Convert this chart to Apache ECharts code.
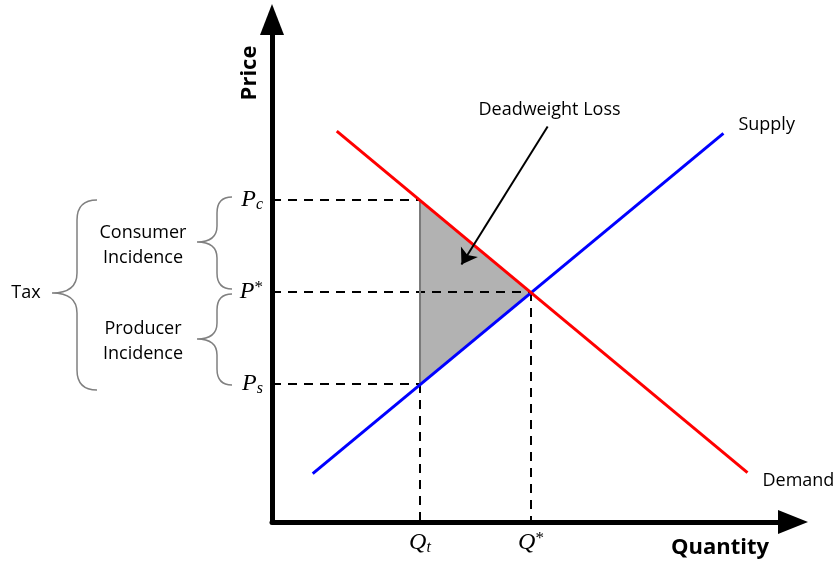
<!DOCTYPE html>
<html>
<head>
<meta charset="utf-8">
<script src="https://cdn.jsdelivr.net/npm/echarts@6/dist/echarts.min.js"></script>
<style>
  html, body { margin: 0; padding: 0; background: #fff; }
  #main { width: 840px; height: 566px; }
</style>
</head>
<body>
<div id="main"></div>
<script>
// key prices and quantities
var priceTicks = [6, 10, 14];           // Ps, P*, Pc
var priceLabels = ['{p|P}{sub|s}', '{p|P}{sup|*}', '{p|P}{sub|c}'];
var qtyTicks = [4, 7];                  // Qt, Q*
var qtyLabels = ['{p|Q}{sub|t}', '{p|Q}{sup|*}'];

// curves (endpoints)
var supplyPts = [[1.1, 2.1], [12.2, 16.9]];
var demandPts = [[1.75, 17.0], [12.85, 2.15]];

// deadweight loss triangle
var dwlPts = [[4, 14], [7, 10], [4, 6]];
var dwlEdge = [[4, 6], [4, 14]];

// dashed guide lines
var guides = [
    [[0, 14], [4, 14]],
    [[0, 10], [7, 10]],
    [[0, 6], [4, 6]],
    [[4, 6], [4, 0]],
    [[7, 10], [7, 0]]
];

// annotation arrow
var dwlArrow = [[7.45, 17.2], [5.12, 11.2]];
var dwlText = [7.5, 17.9];

var myChart = echarts.init(document.getElementById('main'));

var txtFont = '"Open Sans", sans-serif';
var mathRich = {
    p: { fontFamily: '"Liberation Serif", serif', fontStyle: 'italic', fontSize: 24, lineHeight: 26, color: '#000' },
    sub: { fontFamily: '"Liberation Serif", serif', fontStyle: 'italic', fontSize: 16, lineHeight: 15, verticalAlign: 'bottom', color: '#000' },
    sup: { fontFamily: '"Liberation Serif", serif', fontSize: 17, lineHeight: 14, verticalAlign: 'top', color: '#000' }
};

function brace(xa, xs, xt, yt, ym, yb, r) {
    return 'M' + xa + ',' + yt + ' Q' + xs + ',' + yt + ' ' + xs + ',' + (yt + r) +
        ' L' + xs + ',' + (ym - r) + ' Q' + xs + ',' + ym + ' ' + xt + ',' + ym +
        ' Q' + xs + ',' + ym + ' ' + xs + ',' + (ym + r) +
        ' L' + xs + ',' + (yb - r) + ' Q' + xs + ',' + yb + ' ' + xa + ',' + yb;
}

var series = [];

// triangle fill
series.push({
    type: 'custom',
    renderItem: function (params, api) {
        var pts = dwlPts.map(function (d) { return api.coord(d); });
        return { type: 'polygon', shape: { points: pts }, style: { fill: '#b2b2b2' } };
    },
    data: [0],
    z: 1,
    silent: true
});

guides.forEach(function (g) {
    series.push({
        type: 'line', data: g, symbol: 'none', silent: true, z: 2,
        lineStyle: { color: '#000', width: 2, type: [9, 7] }
    });
});

series.push({
    type: 'line', data: dwlEdge, symbol: 'none', silent: true, z: 2,
    lineStyle: { color: '#7a7a7a', width: 2 }
});

series.push({
    name: 'Supply', type: 'line', data: supplyPts, symbol: 'none', silent: true, z: 3,
    lineStyle: { color: '#0000ff', width: 3 },
    endLabel: { show: true, formatter: 'Supply', distance: 15, offset: [0, -8],
        fontFamily: txtFont, fontSize: 18, color: '#000' }
});

series.push({
    name: 'Demand', type: 'line', data: demandPts, symbol: 'none', silent: true, z: 4,
    lineStyle: { color: '#ff0000', width: 3 },
    endLabel: { show: true, formatter: 'Demand', distance: 15, offset: [0, 8],
        fontFamily: txtFont, fontSize: 18, color: '#000' }
});

series.push({
    type: 'lines', coordinateSystem: 'cartesian2d', silent: true, z: 5,
    symbol: ['none', 'arrow'], symbolSize: 15,
    lineStyle: { color: '#000', width: 2, opacity: 1 },
    data: [{ coords: dwlArrow }]
});

// braces and incidence labels on the left of the price axis
series.push({
    type: 'custom', silent: true, z: 5, clip: false,
    data: [0],
    renderItem: function (params, api) {
        var yPc = api.coord([0, priceTicks[2]])[1];
        var yP = api.coord([0, priceTicks[1]])[1];
        var yPs = api.coord([0, priceTicks[0]])[1];
        var bs = { fill: null, stroke: '#808080', lineWidth: 1.5 };
        var ls = { fontFamily: txtFont, fontSize: 18, fill: '#000', align: 'center', verticalAlign: 'middle', lineHeight: 25 };
        return {
            type: 'group',
            children: [
                { type: 'path', shape: { pathData: brace(232, 217, 197, yPc - 3, (yPc + yP) / 2 - 4, yP - 3, 16) }, style: bs },
                { type: 'path', shape: { pathData: brace(232, 217, 197, yP + 2, (yP + yPs) / 2 + 1, yPs + 1, 16) }, style: bs },
                { type: 'path', shape: { pathData: brace(97, 77, 52, yPc, yP + 1, yPs + 6, 20) }, style: bs },
                { type: 'text', x: 143, y: (yPc + yP) / 2 - 1, style: Object.assign({ text: 'Consumer\nIncidence' }, ls) },
                { type: 'text', x: 143, y: (yP + yPs) / 2 + 3, style: Object.assign({ text: 'Producer\nIncidence' }, ls) },
                { type: 'text', x: 26, y: yP + 1, style: Object.assign({ text: 'Tax' }, ls) }
            ]
        };
    }
});

var option = {
    animation: false,
    grid: { left: 272, top: 19.5, right: 47, bottom: 44 },
    xAxis: {
        type: 'value', min: 0, max: 14.08,
        axisLine: { show: true, onZero: false, symbol: ['none', 'triangle'], symbolSize: [24, 30],
            lineStyle: { color: '#000', width: 5 } },
        axisTick: { show: false },
        splitLine: { show: false },
        axisLabel: {
            customValues: qtyTicks, margin: 8,
            formatter: function (v) { return qtyLabels[qtyTicks.indexOf(v)] || ''; },
            rich: mathRich
        }
    },
    yAxis: {
        type: 'value', min: 0, max: 21.85,
        axisLine: { show: true, onZero: false, symbol: ['none', 'triangle'], symbolSize: [24, 31],
            lineStyle: { color: '#000', width: 5 } },
        axisTick: { show: false },
        splitLine: { show: false },
        axisLabel: {
            customValues: priceTicks, margin: 9,
            formatter: function (v) { return priceLabels[priceTicks.indexOf(v)] || ''; },
            rich: mathRich
        }
    },
    series: series
};
myChart.setOption(option);

var t = myChart.convertToPixel({ gridIndex: 0 }, dwlText);
myChart.setOption({
    graphic: [
        { type: 'text', x: t[0], y: t[1],
          style: { text: 'Deadweight Loss', fontFamily: txtFont, fontSize: 18, fill: '#000', align: 'center', verticalAlign: 'middle' } },
        { type: 'text', x: 250, y: 73, rotation: Math.PI / 2,
          style: { text: 'Price', fontFamily: txtFont, fontWeight: 'bold', fontSize: 22, fill: '#000', align: 'center', verticalAlign: 'middle' } },
        { type: 'text', x: 720, y: 548,
          style: { text: 'Quantity', fontFamily: txtFont, fontWeight: 'bold', fontSize: 22, fill: '#000', align: 'center', verticalAlign: 'middle' } }
    ]
});
</script>
</body>
</html>
